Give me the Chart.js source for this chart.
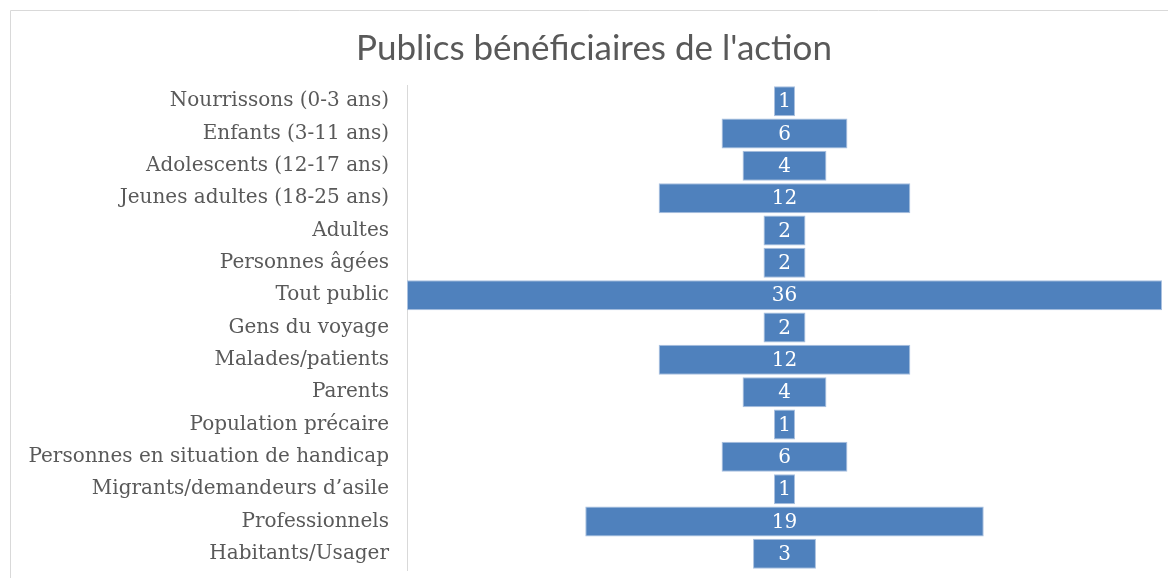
<!DOCTYPE html>
<html>
<head>
<meta charset="utf-8">
<script src="https://cdn.jsdelivr.net/npm/chart.js@4"></script>
<style>
  html, body { margin: 0; padding: 0; background: #fff; }
  #wrap { position: relative; width: 1168px; height: 578px; }
</style>
</head>
<body>
<div id="wrap"><canvas id="chart"></canvas></div>
<script>
const chartTitle = 'Publics bénéficiaires de l\'action';
const categories = [
    'Nourrissons (0-3 ans)',
    'Enfants (3-11 ans)',
    'Adolescents (12-17 ans)',
    'Jeunes adultes (18-25 ans)',
    'Adultes',
    'Personnes âgées',
    'Tout public',
    'Gens du voyage',
    'Malades/patients',
    'Parents',
    'Population précaire',
    'Personnes en situation de handicap',
    'Migrants/demandeurs d\u2019asile',
    'Professionnels',
    'Habitants/Usager'
];
const counts = [1, 6, 4, 12, 2, 2, 36, 2, 12, 4, 1, 6, 1, 19, 3];
const maxCount = 36;

// centered bars, funnel style
const spans = counts.map(v => [-v / 2, v / 2]);

// light frame + title (title is centred on the frame, not the canvas)
const frame = {
    id: 'frame',
    beforeDraw(chart) {
        const ctx = chart.ctx;
        ctx.save();
        ctx.strokeStyle = '#d9d9d9';
        ctx.lineWidth = 1;
        ctx.beginPath();
        ctx.moveTo(10.5, 578);
        ctx.lineTo(10.5, 10.5);
        ctx.lineTo(1168, 10.5);
        ctx.stroke();

        ctx.fillStyle = '#595959';
        ctx.font = '35px Lato';
        ctx.textAlign = 'center';
        ctx.textBaseline = 'middle';
        ctx.fillText(chartTitle, 594, 49);
        ctx.restore();
    }
};

const valueLabels = {
    id: 'valueLabels',
    afterDatasetsDraw(chart) {
        const ctx = chart.ctx;
        const meta = chart.getDatasetMeta(0);
        ctx.save();
        ctx.fillStyle = '#ffffff';
        ctx.font = '20px "DejaVu Serif"';
        ctx.textAlign = 'center';
        ctx.textBaseline = 'middle';
        meta.data.forEach((bar, i) => {
            const cx = (bar.x + bar.base) / 2;
            ctx.fillText(String(counts[i]), cx, bar.y + 1);
        });
        ctx.restore();
    }
};

new Chart(document.getElementById('chart'), {
    type: 'bar',
    data: {
        labels: categories,
        datasets: [{
            data: spans,
            backgroundColor: '#4f81bd',
            borderColor: '#a9c0df',
            borderWidth: 1,
            borderSkipped: false,
            categoryPercentage: 0.93,
            barPercentage: 1
        }]
    },
    options: {
        indexAxis: 'y',
        responsive: true,
        maintainAspectRatio: false,
        animation: false,
        layout: { padding: { left: 0, right: 6, top: 85, bottom: 8 } },
        plugins: {
            legend: { display: false },
            tooltip: { enabled: false },
            title: { display: false }
        },
        scales: {
            x: {
                display: false,
                min: -maxCount / 2,
                max: maxCount / 2
            },
            y: {
                afterFit(scale) {
                    scale.width = 407;
                    scale.paddingTop = 0;
                    scale.paddingBottom = 0;
                },
                grid: { display: false, drawTicks: false },
                border: { display: true, color: '#d9d9d9', width: 1 },
                ticks: {
                    color: '#595959',
                    padding: 18,
                    autoSkip: false,
                    font: { family: 'DejaVu Serif', size: 20 }
                }
            }
        }
    },
    plugins: [frame, valueLabels]
});
</script>
</body>
</html>
